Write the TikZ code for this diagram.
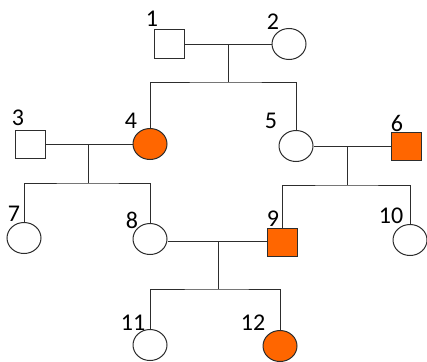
\documentclass[tikz,border=0pt]{standalone}
\usepackage{fontspec}
\setmainfont{Carlito}
\usetikzlibrary{shapes.geometric}
\definecolor{affc}{RGB}{255,102,0}
\definecolor{linec}{RGB}{45,45,45}
\begin{document}
\begin{tikzpicture}[x=1pt,y=-1pt,
 male/.style={draw=linec, line width=1pt, rectangle, minimum width=30pt, minimum height=28pt, inner sep=0pt, fill=white},
 female/.style={draw=linec, line width=1pt, ellipse, minimum width=34pt, minimum height=31pt, inner sep=0pt, fill=white},
 aff/.style={fill=affc},
 lbl/.style={font=\fontsize{24}{24}\selectfont, inner sep=0pt},
 link/.style={draw=linec, line width=1pt}]
\useasboundingbox (0,0) rectangle (427,361);
% individuals
\node[male] (n1) at (169,44) {};
\node[female] (n2) at (289,44) {};
\node[male] (n3) at (30,144) {};
\node[female,aff] (n4) at (150,144) {};
\node[female] (n5) at (296,146) {};
\node[male,aff] (n6) at (406,146) {};
\node[female] (n7) at (24,238) {};
\node[female] (n8) at (150,239) {};
\node[male,aff] (n9) at (282,242) {};
\node[female] (n10) at (410,240) {};
\node[female] (n11) at (150,345) {};
\node[female,aff] (n12) at (280,346) {};
% labels
\node[lbl] (l1) at (152,19) {1};
\node[lbl] (l2) at (273,22) {2};
\node[lbl] (l3) at (18,118) {3};
\node[lbl] (l4) at (131,121) {4};
\node[lbl] (l5) at (271,121) {5};
\node[lbl] (l6) at (397,123) {6};
\node[lbl] (l7) at (14,214) {7};
\node[lbl] (l8) at (132,220) {8};
\node[lbl] (l9) at (273,219) {9};
\node[lbl] (l10) at (391,216) {10};
\node[lbl] (l11) at (133,323) {11};
\node[lbl] (l12) at (253,323) {12};
% coordinates for matings and sibships
\coordinate (m1) at (228,44);
\coordinate (s1) at (228,82);
\coordinate (m2) at (88,144);
\coordinate (s2) at (88,183);
\coordinate (m3) at (347,146);
\coordinate (s3) at (347,185);
\coordinate (m4) at (218,241);
\coordinate (s4) at (218,289);
% connectors
\draw[link] (n1.east) -- (n2.west);
\draw[link] (m1) -- (s1);
\draw[link] (n4.north) |- (s1) -| (n5.north);
\draw[link] (n3.east) -- (n4.west);
\draw[link] (m2) -- (s2);
\draw[link] (n7.north) |- (s2) -| (n8.north);
\draw[link] (n5.east) -- (n6.west);
\draw[link] (m3) -- (s3);
\draw[link] (n9.north) |- (s3) -| (n10.north);
\draw[link] (n8.east |- m4) -- (n9.west |- m4);
\draw[link] (m4) -- (s4);
\draw[link] (n11.north) |- (s4) -| (n12.north);
\end{tikzpicture}
\end{document}
